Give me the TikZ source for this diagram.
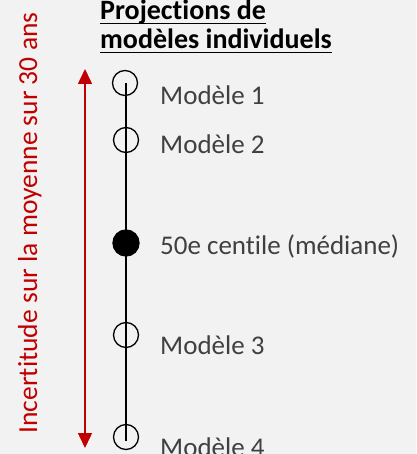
\documentclass[tikz,border=0pt]{standalone}
\usepackage{fontspec}
\setmainfont[Ligatures=NoCommon]{Carlito}
\usetikzlibrary{arrows.meta}
\definecolor{bg}{HTML}{F2F2F2}
\definecolor{lbl}{HTML}{404040}
\definecolor{dred}{HTML}{C00000}
\begin{document}
\begin{tikzpicture}[x=1bp,y=-1bp,
  lab/.style={anchor=base west,inner sep=0pt,text=lbl,font=\fontsize{27bp}{30bp}\selectfont},
  ttl/.style={anchor=base west,inner sep=0pt,text=black,font=\bfseries\fontsize{28bp}{30bp}\selectfont},
  opencirc/.style={circle,draw=black,line width=1.3bp,minimum size=25bp,inner sep=0pt},
  fullcirc/.style={circle,draw=black,fill=black,line width=1.3bp,minimum size=26bp,inner sep=0pt}]
\fill[bg] (0,0) rectangle (416,454);
\useasboundingbox (0,0) rectangle (416,454);
% title
\node[ttl] (t1) at (100,20) {Projections de};
\node[ttl] (t2) at (100,48.5) {modèles individuels};
\draw[line width=1.3bp] ([yshift=-3.5bp]t1.base west) -- ([yshift=-3.5bp]t1.base east);
\draw[line width=1.3bp] ([yshift=-4bp]t2.base west) -- ([yshift=-4bp]t2.base east);
% axis
\coordinate (top) at (126,83);
\coordinate (bot) at (126,441);
\draw[line width=1.3bp] (top) -- (bot);
\node[opencirc] (c1) at (125,83) {};
\node[opencirc] (c2) at (126,140) {};
\node[fullcirc] (c5) at (126,243) {};
\node[opencirc] (c3) at (126,335) {};
\node[opencirc] (c4) at (126,437) {};
\node[lab] (l1) at (160,105) {Modèle 1};
\node[lab] (l2) at (160,154) {Modèle 2};
\node[lab] (l5) at (160,254) {50e centile (médiane)};
\node[lab] (l3) at (160,354) {Modèle 3};
\node[lab] (l4) at (160,456) {Modèle 4};
% uncertainty arrow
\coordinate (atop) at (85,69);
\coordinate (abot) at (85,448);
\draw[dred,line width=1.5bp,{Triangle[length=15bp,width=14bp]}-{Triangle[length=15bp,width=14bp]}] (abot) -- (atop);
\node[rotate=90,anchor=base,inner sep=0pt,text=dred,font=\fontsize{27.5bp}{30bp}\selectfont] (unc) at (37,223) {Incertitude sur la moyenne sur 30 ans};
\end{tikzpicture}
\end{document}
